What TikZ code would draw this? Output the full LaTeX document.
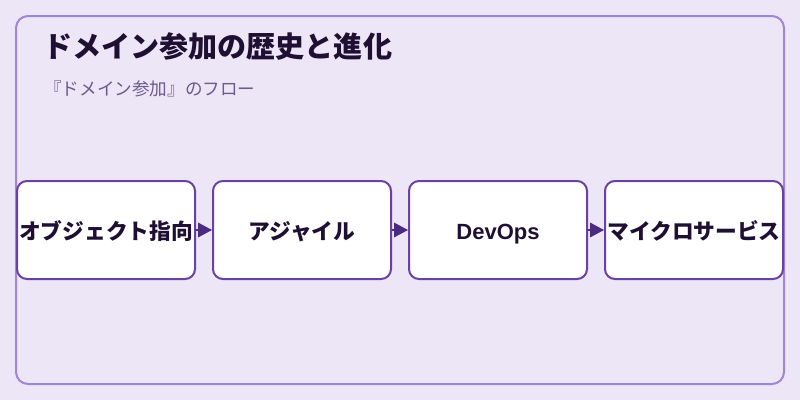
\documentclass[tikz,border=0pt]{standalone}
\usepackage{fontspec}
\setmainfont{Noto Sans CJK JP}
\newfontfamily\latinsans{Liberation Sans}
\usetikzlibrary{arrows.meta}
\definecolor{bg}{HTML}{EDE6F6}
\definecolor{frame}{HTML}{A185D2}
\definecolor{boxline}{HTML}{6A40A3}
\definecolor{ink}{HTML}{1E0F33}
\definecolor{arrowc}{HTML}{4B2B80}
\definecolor{subc}{HTML}{6B5B8E}
\tikzset{
  stepbox/.style={draw=boxline, fill=white, line width=1.5pt, rounded corners=7.5pt,
    minimum width=133.5pt, minimum height=73.5pt, inner sep=0pt,
    text height=16pt, text depth=1.4pt,
    font=\fontsize{16.3pt}{19pt}\selectfont\bfseries, text=ink},
  flow/.style={draw=arrowc, line width=1pt, -{Triangle[length=10.5pt,width=11pt]}, fill=arrowc},
}
\begin{document}
\begin{tikzpicture}[x=0.75pt,y=-0.75pt]
\useasboundingbox (0,0) rectangle (800,400);
\fill[bg] (0,0) rectangle (800,400);
\draw[frame, line width=1.5pt, rounded corners=9pt] (16,16) rectangle (784,384);
\node[anchor=west, inner sep=0pt, text=ink, font=\fontsize{21.8pt}{25pt}\selectfont\bfseries] (title) at (43,47) {ドメイン参加の歴史と進化};
\node[anchor=west, inner sep=0pt, text=subc, font=\fontsize{13.2pt}{15pt}\selectfont] (sub) at (44,89) {『ドメイン参加』のフロー};
\node[stepbox] (a) at (106,230) {オブジェクト指向};
\node[stepbox] (b) at (302,230) {アジャイル};
\node[stepbox, text height=14pt, text depth=0pt, font=\latinsans\fontsize{16.5pt}{19pt}\selectfont\bfseries] (c) at (498,230) {DevOps};
\node[stepbox] (d) at (694,230) {マイクロサービス};
\draw[flow] (a) -- (b);
\draw[flow] (b) -- (c);
\draw[flow] (c) -- (d);
\end{tikzpicture}
\end{document}
